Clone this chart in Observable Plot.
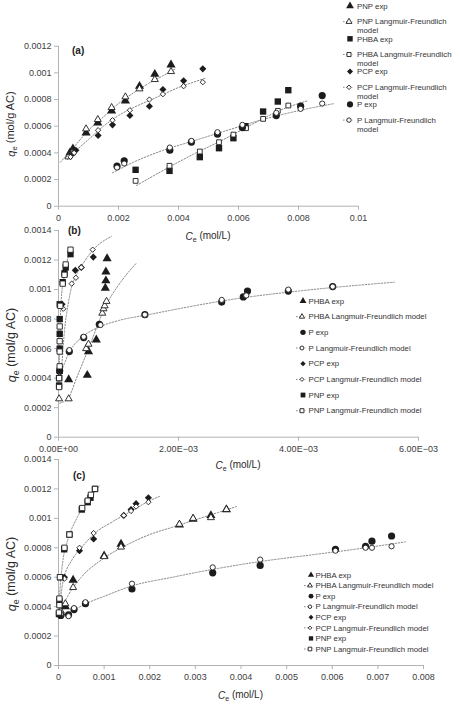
<!DOCTYPE html>
<html>
<head>
<meta charset="utf-8">
<script src="https://cdn.jsdelivr.net/npm/d3@7"></script>
<script src="https://cdn.jsdelivr.net/npm/@observablehq/plot@0.6"></script>
<style>
  html, body { margin: 0; padding: 0; background: #fff; }
  #fig { position: relative; width: 461px; height: 705px; overflow: hidden; background: #fff;
         font-family: "Liberation Sans", Arial, sans-serif; }
  #fig svg { position: absolute; left: 0; }
</style>
</head>
<body>
<div id="fig"></div>
<script>
// ---- Panel (a): equilibrium data, [Ce (mol/L), qe (mol/g AC)] ----
const aPNPExp    = [[0.00038,0.0004],[0.00048,0.00043],[0.00092,0.00055],[0.00131,0.000625],[0.00177,0.000715],[0.00223,0.00079],[0.0027,0.0009],[0.00321,0.00099],[0.00375,0.00106]];
const aPNPModel  = [[0.00033,0.00037],[0.00045,0.0004],[0.00092,0.00058],[0.00131,0.00065],[0.00177,0.00074],[0.00223,0.00082],[0.0027,0.00088],[0.00321,0.00095],[0.00375,0.00101]];
const aPNPCurve  = [[0.00006,0.00033],[0.0005,0.00044],[0.001,0.00057],[0.0015,0.00067],[0.002,0.00077],[0.0025,0.00085],[0.003,0.00092],[0.0035,0.00098],[0.0039,0.00103]];
const aPHBAExp   = [[0.00257,0.000273],[0.0037,0.000265],[0.00471,0.000368],[0.00535,0.000435],[0.00583,0.00051],[0.00623,0.0006],[0.00682,0.00071],[0.00731,0.000785],[0.00766,0.00087]];
const aPHBAModel = [[0.00257,0.00019],[0.0037,0.000303],[0.00471,0.00041],[0.00535,0.00048],[0.00583,0.000537],[0.00625,0.000585],[0.00682,0.000655],[0.00731,0.000715],[0.00766,0.000755]];
const aPHBACurve = [[0.0026,0.000155],[0.0035,0.00027],[0.0045,0.00039],[0.0055,0.0005],[0.0065,0.00062],[0.0075,0.00073],[0.0083,0.00079]];
const aPCPExp    = [[0.00045,0.00039],[0.00058,0.00042],[0.00132,0.00053],[0.0018,0.00061],[0.00238,0.00068],[0.00303,0.00075],[0.00348,0.000875],[0.00417,0.00094],[0.00481,0.00103]];
const aPCPModel  = [[0.0004,0.00037],[0.00052,0.0004],[0.00132,0.00057],[0.0018,0.000645],[0.00238,0.00072],[0.00303,0.0008],[0.00348,0.00084],[0.00417,0.0009],[0.00481,0.00093]];
const aPCPCurve  = [[0.0003,0.00035],[0.0006,0.00042],[0.001,0.0005],[0.0015,0.0006],[0.002,0.00068],[0.0025,0.00074],[0.003,0.00079],[0.0035,0.00084],[0.004,0.00089],[0.0045,0.00093],[0.0049,0.00096]];
const aPExp      = [[0.00195,0.0003],[0.00219,0.00034],[0.00371,0.00042],[0.00443,0.00048],[0.0053,0.00054],[0.00613,0.00059],[0.00726,0.00068],[0.00807,0.00075],[0.00879,0.00083]];
const aPModel    = [[0.00195,0.00029],[0.00219,0.00032],[0.00371,0.00044],[0.00443,0.00049],[0.0053,0.000555],[0.00613,0.00061],[0.00726,0.0007],[0.00807,0.00073],[0.00879,0.00077]];
const aPCurve    = [[0.0018,0.00025],[0.0025,0.00033],[0.0035,0.00042],[0.0045,0.00049],[0.0055,0.00056],[0.0065,0.00063],[0.0075,0.00069],[0.0085,0.00074],[0.0092,0.00077]];

// ---- Panel (b) ----
const bPHBAExp   = [[0.00017,0.00039],[0.00048,0.00042],[0.0005,0.00058],[0.00063,0.00066],[0.00078,0.00101],[0.00079,0.00106],[0.00079,0.00112],[0.00081,0.00121]];
const bPHBAModel = [[0.00001,0.00026],[0.00017,0.00026],[0.00046,0.0006],[0.0005,0.00063],[0.00073,0.00084],[0.00075,0.00087],[0.00077,0.00089],[0.0008,0.00092]];
const bPHBACurve = [[0.00002,0.00023],[0.00017,0.00027],[0.0003,0.0004],[0.0005,0.0006],[0.0008,0.0009],[0.001,0.00103],[0.0013,0.00118]];
const bPExp      = [[0.00002,0.00045],[0.00018,0.00058],[0.00042,0.000675],[0.00068,0.000765],[0.00144,0.00083],[0.00272,0.000915],[0.00308,0.00095],[0.00315,0.00099],[0.00383,0.00099],[0.00457,0.00102]];
const bPModel    = [[0.00002,0.00044],[0.00018,0.00059],[0.00042,0.00068],[0.0007,0.00076],[0.00144,0.00083],[0.00272,0.00093],[0.00313,0.00096],[0.00383,0.001],[0.00457,0.00102]];
const bPCurve    = [[0.00002,0.00041],[0.0001,0.0005],[0.0002,0.00059],[0.0004,0.00068],[0.0007,0.00075],[0.001,0.00079],[0.0015,0.00083],[0.002,0.00087],[0.003,0.00094],[0.004,0.00099],[0.0056,0.00105]];
const bPCPExp    = [[0.00006,0.0009],[0.00028,0.00113],[0.00038,0.00115],[0.00058,0.00122]];
const bPCPModel  = [[0.00008,0.00087],[0.00022,0.00104],[0.00029,0.00108],[0.00038,0.00115],[0.00057,0.00127]];
const bPCPCurve  = [[0.00005,0.00045],[0.0001,0.00072],[0.00016,0.0009],[0.00022,0.00102],[0.0003,0.0011],[0.0004,0.00117],[0.00058,0.00127],[0.00088,0.00136]];
const bPNPExp    = [[0.00001,0.00035],[0.00001,0.0004],[0.00002,0.00045],[0.00002,0.0006],[0.00002,0.0007],[0.00002,0.0008],[0.00002,0.0009],[0.00007,0.00105],[0.0001,0.00111],[0.00012,0.00115],[0.0002,0.00124]];
const bPNPModel  = [[0.00001,0.00034],[0.00001,0.0004],[0.00002,0.00048],[0.00002,0.00058],[0.00002,0.00065],[0.00002,0.00075],[0.00003,0.00089],[0.00007,0.00104],[0.0001,0.0011],[0.00012,0.00117],[0.0002,0.00127]];
const bPNPCurve  = [[0.000005,0.00033],[0.00002,0.0006],[0.00004,0.0009],[0.0001,0.0011],[0.00022,0.00128]];

// ---- Panel (c) ----
const cPHBAExp   = [[0.00005,0.00036],[0.00015,0.0004],[0.00032,0.00058],[0.001,0.000745],[0.00137,0.000825],[0.00265,0.000955],[0.00295,0.000995],[0.00334,0.00102],[0.00368,0.00106]];
const cPHBAModel = [[0.00005,0.00037],[0.00015,0.00042],[0.00032,0.00053],[0.001,0.00074],[0.00137,0.000805],[0.00265,0.00096],[0.00295,0.001],[0.00334,0.001005],[0.00368,0.00106]];
const cPHBACurve = [[0.00002,0.00035],[0.0002,0.00047],[0.0005,0.0006],[0.001,0.00073],[0.0015,0.00082],[0.002,0.00089],[0.0025,0.00094],[0.003,0.00099],[0.0035,0.00104],[0.0039,0.00108]];
const cPExp      = [[0.00005,0.00034],[0.00022,0.000345],[0.00034,0.00038],[0.00059,0.00042],[0.00161,0.00052],[0.00338,0.00063],[0.00442,0.00068],[0.00607,0.00079],[0.00673,0.00081],[0.00687,0.000845],[0.0073,0.00088]];
const cPModel    = [[0.00005,0.00035],[0.00022,0.000335],[0.00034,0.00039],[0.00059,0.00043],[0.00161,0.000556],[0.00338,0.000667],[0.00442,0.00072],[0.00607,0.00078],[0.00673,0.0008],[0.00687,0.0008],[0.0073,0.00081]];
const cPCurve    = [[0.0001,0.00033],[0.0003,0.00037],[0.0006,0.00042],[0.001,0.00047],[0.0016,0.00054],[0.0025,0.0006],[0.0035,0.00066],[0.0045,0.00071],[0.0055,0.00075],[0.0065,0.00079],[0.0076,0.00084]];
const cPCPExp    = [[0.00002,0.00042],[0.00013,0.0006],[0.00046,0.00078],[0.00077,0.00086],[0.00143,0.00102],[0.00159,0.00106],[0.0017,0.0011],[0.00197,0.00114]];
const cPCPModel  = [[0.00002,0.00041],[0.00013,0.00059],[0.00046,0.0008],[0.00077,0.0009],[0.00143,0.00102],[0.00159,0.00105],[0.0017,0.00108],[0.00197,0.00111]];
const cPCPCurve  = [[0.00001,0.00038],[0.0001,0.00057],[0.0003,0.00072],[0.0005,0.0008],[0.0008,0.0009],[0.0012,0.00098],[0.0016,0.00105],[0.002,0.00112],[0.00222,0.00115]];
const cPNPExp    = [[0.00001,0.00035],[0.00002,0.00044],[0.00004,0.0006],[0.000125,0.00079],[0.00024,0.00089],[0.00051,0.00106],[0.00064,0.00111],[0.0007,0.00114],[0.0008,0.0012]];
const cPNPModel  = [[0.00001,0.00036],[0.00002,0.00041],[0.00002,0.000455],[0.00003,0.0006],[0.00013,0.0008],[0.00024,0.00089],[0.00052,0.00107],[0.00064,0.00112],[0.00071,0.00116],[0.0008,0.0012]];
const cPNPCurve  = [[0.000005,0.00035],[0.00003,0.0005],[0.0001,0.00072],[0.0002,0.00085],[0.0004,0.001],[0.0006,0.0011],[0.0009,0.00122]];

// ---- Ticks ----
const aXTicks = [0, 0.002, 0.004, 0.006, 0.008, 0.01];
const aYTicks = [0, 0.0002, 0.0004, 0.0006, 0.0008, 0.001, 0.0012];
const bXTicks = [0, 0.002, 0.004, 0.006];
const bXTickLabels = ["0.00E+00", "2.00E\u221203", "4.00E\u221203", "6.00E\u221203"];
const bcYTicks = [0, 0.0002, 0.0004, 0.0006, 0.0008, 0.001, 0.0012, 0.0014];
const cXTicks = [0, 0.001, 0.002, 0.003, 0.004, 0.005, 0.006, 0.007, 0.008];

// ---- Styling ----
const ink = "#1c1c1c";
const axisGray = "#b3b3b3";
const curveGray = "#8a8a8a";
const font = "'Liberation Sans', Arial, sans-serif";

const compounds = {
  PNP:  {symbol: "triangle", r: 3.4, rm: 2.6},
  PHBA: {symbol: "square",   r: 3.6, rm: 2.7},
  PCP:  {symbol: "diamond2", r: 3.2, rm: 2.4},
  P:    {symbol: "circle",   r: 3.6, rm: 2.6}
};
// symbol set used in panels (b) and (c)
const symbolsBC = {
  PHBA: {symbol: "triangle", r: 3.4, rm: 2.6},
  P:    {symbol: "circle",   r: 3.6, rm: 2.6},
  PCP:  {symbol: "diamond2", r: 3.2, rm: 2.4},
  PNP:  {symbol: "square",   r: 3.6, rm: 3.0}
};

const panels = [
  {
    id: "a", top: 0, height: 245, mt: 45.7, mb: 39.3, mr: 103,
    xDomain: [0, 0.01], yDomain: [0, 0.0012], xTicks: aXTicks, yTicks: aYTicks,
    xFormat: d => String(d),
    series: [
      {name: "PNP",  ...compounds.PNP,  exp: aPNPExp,  model: aPNPModel,  curve: aPNPCurve},
      {name: "PHBA", ...compounds.PHBA, exp: aPHBAExp, model: aPHBAModel, curve: aPHBACurve},
      {name: "PCP",  ...compounds.PCP,  exp: aPCPExp,  model: aPCPModel,  curve: aPCPCurve},
      {name: "P",    ...compounds.P,    exp: aPExp,    model: aPModel,    curve: aPCurve}
    ],
    label: {x: 72, y: 50},
    yTitle: {x: 15, y: 124, size: 11}, xTitle: {y: 240, size: 10},
    legend: {kind: "wrapped", x: 350, tx: 357, y0: 6, step: 32.8, gap: 15.7, size: 7.8, scale: 0.85}
  },
  {
    id: "b", top: 222, height: 253, mt: 8, mb: 38.3, mr: 43,
    xDomain: [0, 0.006], yDomain: [0, 0.0014], xTicks: bXTicks, yTicks: bcYTicks,
    xFormat: d => bXTickLabels[bXTicks.indexOf(d)],
    series: [
      {name: "PHBA", ...symbolsBC.PHBA, exp: bPHBAExp, model: bPHBAModel, curve: bPHBACurve},
      {name: "P",    ...symbolsBC.P,    exp: bPExp,    model: bPModel,    curve: bPCurve},
      {name: "PCP",  ...symbolsBC.PCP,  exp: bPCPExp,  model: bPCPModel,  curve: bPCPCurve},
      {name: "PNP",  ...symbolsBC.PNP,  exp: bPNPExp,  model: bPNPModel,  curve: bPNPCurve}
    ],
    label: {x: 68, y: 230},
    yTitle: {x: 16, y: 345, size: 12.5}, xTitle: {y: 469, size: 10},
    legend: {kind: "single", x: 303, tx: 308.5, y0: 301, step: 15.67, size: 7.8, scale: 0.75}
  },
  {
    id: "c", top: 450, height: 255, mt: 9, mb: 40, mr: 38,
    xDomain: [0, 0.008], yDomain: [0, 0.0014], xTicks: cXTicks, yTicks: bcYTicks,
    xFormat: d => String(d),
    series: [
      {name: "PHBA", ...symbolsBC.PHBA, exp: cPHBAExp, model: cPHBAModel, curve: cPHBACurve},
      {name: "P",    ...symbolsBC.P,    exp: cPExp,    model: cPModel,    curve: cPCurve},
      {name: "PCP",  ...symbolsBC.PCP,  exp: cPCPExp,  model: cPCPModel,  curve: cPCPCurve},
      {name: "PNP",  ...symbolsBC.PNP,  exp: cPNPExp,  model: cPNPModel,  curve: cPNPCurve}
    ],
    label: {x: 73, y: 475},
    yTitle: {x: 16, y: 574, size: 12.5}, xTitle: {y: 699, size: 10},
    legend: {kind: "single", x: 311, tx: 315.5, y0: 575, step: 10.57, size: 7.8, scale: 0.68}
  }
];

const d3Symbols = {triangle: d3.symbolTriangle, square: d3.symbolSquare, diamond2: d3.symbolDiamond2, circle: d3.symbolCircle};
const X = d => d[0], Y = d => d[1];

function drawPanel(p) {
  const marks = [
    Plot.ruleY([0], {stroke: axisGray}),
    Plot.ruleX([0], {stroke: axisGray}),
    Plot.axisY(p.yTicks, {tickSize: 4, tickPadding: 3, tickFormat: d => String(d), stroke: axisGray, label: null}),
    Plot.axisX(p.xTicks, {tickSize: 4, tickPadding: 4, tickFormat: p.xFormat, stroke: axisGray, label: null}),
    ...p.series.map(s => Plot.line(s.curve, {x: X, y: Y, stroke: curveGray, strokeWidth: 1, strokeDasharray: "1.6,1.6", curve: "monotone-x"})),
    ...p.series.flatMap(s => [
      Plot.dot(s.exp,   {x: X, y: Y, symbol: s.symbol, r: s.r,  fill: ink, stroke: "none"}),
      Plot.dot(s.model, {x: X, y: Y, symbol: s.symbol, r: s.rm, fill: "white", stroke: ink, strokeWidth: 0.9})
    ])
  ];
  const svg = Plot.plot({
    width: 461, height: p.height,
    marginLeft: 58, marginRight: p.mr, marginTop: p.mt, marginBottom: p.mb,
    x: {domain: p.xDomain},
    y: {domain: p.yDomain},
    style: {fontFamily: font, fontSize: "9px", color: "#3d3d3d", background: "transparent", overflow: "visible"},
    marks
  });
  svg.style.top = p.top + "px";
  document.getElementById("fig").appendChild(svg);

  const g = d3.select(svg).append("g").attr("font-family", font).attr("text-anchor", "start");
  const t = p.top;

  // panel tag
  g.append("text").attr("x", p.label.x).attr("y", p.label.y - t).attr("dy", "0.35em")
    .attr("font-size", 10).attr("font-weight", "bold").attr("fill", "#222").text(`(${p.id})`);

  // y title: qe (mol/g AC)
  const yt = g.append("text")
    .attr("transform", `translate(${p.yTitle.x},${p.yTitle.y - t}) rotate(-90)`)
    .attr("text-anchor", "middle").attr("font-size", p.yTitle.size).attr("fill", "#2a2a2a");
  yt.append("tspan").attr("font-style", "italic").text("q");
  yt.append("tspan").attr("font-size", "70%").attr("dy", "0.3em").text("e");
  yt.append("tspan").attr("dy", "-0.3em").text(" (mol/g AC)");

  // x title: Ce (mol/L)
  const [r0, r1] = [58, 461 - p.mr];
  const xt = g.append("text").attr("x", (r0 + r1) / 2).attr("y", p.xTitle.y - t)
    .attr("text-anchor", "middle").attr("font-size", p.xTitle.size).attr("fill", "#2a2a2a");
  xt.append("tspan").attr("font-style", "italic").text("C");
  xt.append("tspan").attr("font-size", "70%").attr("dy", "0.3em").text("e");
  xt.append("tspan").attr("dy", "-0.3em").text(" (mol/L)");

  // legend
  const L = p.legend;
  const lg = g.append("g").attr("font-size", L.size).attr("fill", "#333").attr("text-anchor", "start");
  p.series.forEach((s, i) => {
    let yExp, yMod;
    if (L.kind === "wrapped") {
      yExp = L.y0 + L.step * i - t;
      yMod = yExp + L.gap;
    } else {
      yExp = L.y0 + L.step * 2 * i - t;
      yMod = yExp + L.step;
    }
    const symExp = d3.symbol(d3Symbols[s.symbol], Math.PI * (s.r * L.scale) ** 2);
    const symMod = d3.symbol(d3Symbols[s.symbol], Math.PI * (s.rm * L.scale) ** 2);
    lg.append("path").attr("d", symExp()).attr("transform", `translate(${L.x},${yExp})`).attr("fill", ink);
    lg.append("text").attr("x", L.tx).attr("y", yExp).attr("dy", "0.35em").text(`${s.name} exp`);
    lg.append("line").attr("x1", L.x - 7).attr("x2", L.x + 3).attr("y1", yMod).attr("y2", yMod)
      .attr("stroke", curveGray).attr("stroke-dasharray", "1.6,1.6");
    lg.append("path").attr("d", symMod()).attr("transform", `translate(${L.x - 1},${yMod})`)
      .attr("fill", "white").attr("stroke", ink).attr("stroke-width", 0.9);
    if (L.kind === "wrapped") {
      lg.append("text").attr("x", L.tx).attr("y", yMod).attr("dy", "0.35em").text(`${s.name} Langmuir-Freundlich`);
      lg.append("text").attr("x", L.tx).attr("y", yMod + 9).attr("dy", "0.35em").text("model");
    } else {
      lg.append("text").attr("x", L.tx).attr("y", yMod).attr("dy", "0.35em").text(`${s.name} Langmuir-Freundlich model`);
    }
  });
}

panels.forEach(drawPanel);
</script>
</body>
</html>
